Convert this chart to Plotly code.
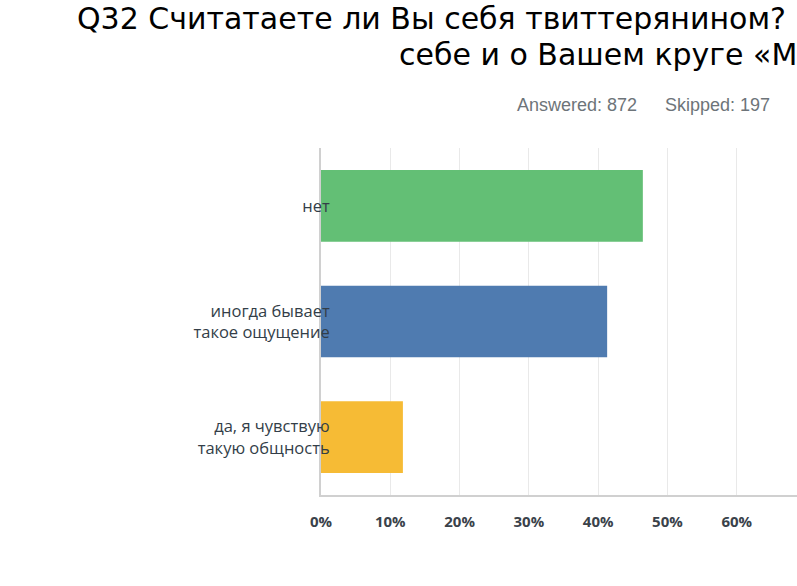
import plotly.graph_objects as go

categories = ["да, я чувствую<br>такую общность", "иногда бывает<br>такое ощущение", "нет"]
values = [11.82, 41.3, 46.45]
colors = ["#f6bb35", "#4f7bb0", "#63bf75"]
tick_vals = [0, 10, 20, 30, 40, 50, 60, 70]
tick_text = ["0%", "10%", "20%", "30%", "40%", "50%", "60%", "70%"]
title_line1 = "Q32 Считатаете ли Вы себя твиттерянином?"
title_line2 = "себе и о Вашем круге «М"
answered = "Answered: 872"
skipped = "Skipped: 197"

W, H = 797, 586
L, R, T, B = 321, 0, 148, 91

def px_x(p):
    return (p - L) / (W - L - R)

def px_y(p):
    return 1 - (p - T) / (H - T - B)

fig = go.Figure(go.Bar(
    x=values, y=categories, orientation="h",
    marker=dict(color=colors, line=dict(width=0)),
    hoverinfo="skip",
))

fig.update_layout(
    width=W, height=H,
    margin=dict(l=L, r=R, t=T, b=B, pad=0),
    plot_bgcolor="white", paper_bgcolor="white",
    showlegend=False,
    bargap=0.38,
    font=dict(family="Open Sans", color="#333e48"),
)
fig.update_xaxes(
    range=[0, 68.7], tickvals=tick_vals, ticktext=tick_text,
    showgrid=True, gridcolor="#e9e9e9", gridwidth=1,
    zeroline=False, showline=True, linecolor="#d0d0d0", linewidth=2,
    ticks="outside", ticklen=12, tickcolor="rgba(0,0,0,0)",
    tickfont=dict(family="Open Sans", size=15, color="#3a424a", weight="bold"),
    fixedrange=True, automargin=False,
)
fig.update_yaxes(
    showgrid=False, zeroline=False, showline=True, linecolor="#d0d0d0", linewidth=2,
    ticks="", ticklabelstandoff=-14,
    tickfont=dict(family="Open Sans", size=16.5, color="#333e48"),
    range=[-0.5, 2.5], fixedrange=True, automargin=False,
)

fig.add_annotation(text=title_line1, xref="paper", yref="paper",
                   x=px_x(75), y=px_y(18), xanchor="left", yanchor="middle",
                   showarrow=False, font=dict(family="DejaVu Sans", size=30, color="#000000"))
fig.add_annotation(text=title_line2, xref="paper", yref="paper",
                   x=px_x(397), y=px_y(55), xanchor="left", yanchor="middle",
                   showarrow=False, font=dict(family="DejaVu Sans", size=30, color="#000000"))
fig.add_annotation(text=answered, xref="paper", yref="paper",
                   x=px_x(515), y=px_y(105), xanchor="left", yanchor="middle",
                   showarrow=False, font=dict(family="Liberation Sans", size=18, color="#6d7479"))
fig.add_annotation(text=skipped, xref="paper", yref="paper",
                   x=px_x(663), y=px_y(105), xanchor="left", yanchor="middle",
                   showarrow=False, font=dict(family="Liberation Sans", size=18, color="#6d7479"))

fig.write_html(
    "out.html",
    config={"displayModeBar": False},
    post_script="document.body.style.margin='0';document.documentElement.style.overflow='hidden';",
)
